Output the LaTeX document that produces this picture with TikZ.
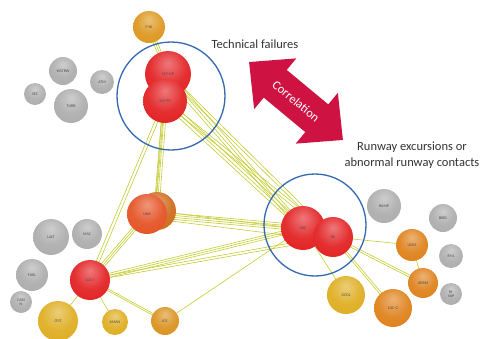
\documentclass[tikz,border=0pt]{standalone}
\usepackage{fontspec}
\setmainfont{Carlito}
\usetikzlibrary{calc}
\pgfdeclarelayer{bg}
\pgfsetlayers{bg,main}
\definecolor{sred}{RGB}{226,30,32}
\definecolor{sunk}{RGB}{228,80,34}
\definecolor{sunkb}{RGB}{205,105,25}
\definecolor{sorange}{RGB}{222,128,24}
\definecolor{sgold}{RGB}{222,172,30}
\definecolor{sfni}{RGB}{220,150,28}
\definecolor{sice}{RGB}{218,145,30}
\definecolor{sgray}{RGB}{172,172,172}
\definecolor{edgecol}{RGB}{196,204,48}
\definecolor{ringblue}{RGB}{52,104,176}
\definecolor{arrowred}{RGB}{206,18,66}
\makeatletter
\pgfdeclareradialshading[tikz@ball]{softball}{\pgfqpoint{0bp}{12bp}}{%
 color(0bp)=(tikz@ball!60!white);
 color(20bp)=(tikz@ball!92!white);
 color(38bp)=(tikz@ball);
 color(52bp)=(tikz@ball!80!black);
 color(64bp)=(tikz@ball!62!black)}
\makeatother
\newcommand\edgebundle[3]{\foreach \o in {#3}{\draw[edge] ($(#1)!\o pt!90:(#2)$) -- ($(#2)!\o pt!-90:(#1)$);}}
\begin{document}
\begin{tikzpicture}[x=1pt,y=-1pt,
  sph/.style={circle,inner sep=0pt,ball color=#1,shading=softball,text=black!70,font=\fontsize{4}{4.5}\selectfont,align=center},
  edge/.style={draw=edgecol,line width=0.6pt},
  ring/.style={circle,draw=ringblue,line width=1.3pt,inner sep=0pt},
  lbl/.style={font=\fontsize{12.5}{16}\selectfont,text=black!80,align=center}]
\useasboundingbox (0,0) rectangle (488,338);
% spheres
\node[sph=sfni,minimum size=32] (fni) at (149,27) {F-NI};
\node[sph=sred,minimum size=46] (scfnp) at (168,74) {SCF-NP};
\node[sph=sred,minimum size=44] (scfpp) at (165,101) {SCF-PP};
\node[sph=sgray,minimum size=28] (wstrw) at (63,71) {WSTRW};
\node[sph=sgray,minimum size=24] (atm) at (102,82) {ATM};
\node[sph=sgray,minimum size=22] (sec) at (35,94) {SEC};
\node[sph=sgray,minimum size=34] (turb) at (71,106) {TURB};
\node[sph=sgray,minimum size=36] (lalt) at (51,237) {LALT};
\node[sph=sgray,minimum size=30] (mac) at (87,234) {MAC};
\node[sph=sgray,minimum size=32] (fuel) at (32,275) {FUEL};
\node[sph=sgray,minimum size=22] (cabin) at (21,302) {CABI\\N};
\node[sph=sred,minimum size=40] (loci) at (90,280) {LOC-I};
\node[sph=sgold,minimum size=40] (cfit) at (58,321) {CFIT};
\node[sph=sgold,minimum size=26] (aman) at (115,322) {AMAN};
\node[sph=sice,minimum size=28] (ice) at (165,321) {ICE};
\node[sph=sunkb,minimum size=38] (unkb) at (157,211) {};
\node[sph=sunk,minimum size=40] (unk) at (147,214) {UNK};
\node[sph=sred,minimum size=44] (arc) at (303,228) {ARC};
\node[sph=sred,minimum size=40] (re) at (333,237) {RE};
\node[sph=sgray,minimum size=34] (ramp) at (384,206) {RAMP};
\node[sph=sgray,minimum size=28] (bird) at (443,218) {BIRD};
\node[sph=sorange,minimum size=32] (usos) at (412,245) {USOS};
\node[sph=sgray,minimum size=24] (ria) at (451,256) {RI-A};
\node[sph=sorange,minimum size=30] (adrm) at (423,283) {ADRM};
\node[sph=sgray,minimum size=22] (rivap) at (451,294) {RI-\\VAP};
\node[sph=sgold,minimum size=38] (gcol) at (346,295) {GCOL};
\node[sph=sorange,minimum size=38] (locg) at (393,308) {LOC-G};
% rings
\node[ring,minimum size=108] (techring) at (171,96) {};
\node[ring,minimum size=102] (rwyring) at (315,225) {};
% edges
\begin{pgfonlayer}{bg}
\edgebundle{fni}{scfnp}{-2,0,2}
\edgebundle{scfnp}{unkb}{-3,-1.5}
\edgebundle{scfpp}{unkb}{-2,0,2}
\edgebundle{scfnp}{arc}{-4,-1,2}
\edgebundle{scfnp}{re}{-2,1}
\edgebundle{scfpp}{arc}{-3,0,3}
\edgebundle{scfpp}{re}{-1.5,1.5}
\edgebundle{scfpp}{loci}{-1.5,1.5}
\edgebundle{unk}{arc}{-3,-1,1,3}
\edgebundle{unk}{re}{-4,4}
\edgebundle{unk}{loci}{-2,0,2}
\edgebundle{loci}{arc}{-2,0,2}
\edgebundle{loci}{re}{-1,1.5}
\edgebundle{loci}{cfit}{0}
\edgebundle{loci}{aman}{0}
\edgebundle{loci}{ice}{-0.8,0.8}
\edgebundle{ice}{arc}{0}
\edgebundle{arc}{gcol}{0}
\edgebundle{re}{usos}{0}
\edgebundle{re}{adrm}{-1,1}
\edgebundle{re}{locg}{-1,1}
\edgebundle{usos}{adrm}{0}
\end{pgfonlayer}
% labels
\node[lbl] (techlbl) at (255,44) {Technical failures};
\node[lbl] (rwylbl) at (412,155) {Runway excursions or\\abnormal runway contacts};
% correlation arrow
\begin{scope}[shift={(296,101)},rotate=-39.7]
\fill[arrowred] (-61,0) -- (-27,-33) -- (-27,-18) -- (27,-18) -- (27,-33) -- (61,0)
  -- (27,33) -- (27,18) -- (-27,18) -- (-27,33) -- cycle;
\end{scope}
\node[font=\fontsize{12.5}{14}\selectfont,text=white,rotate=-39.7] (corr) at (296,101) {Correlation};
\end{tikzpicture}
\end{document}
